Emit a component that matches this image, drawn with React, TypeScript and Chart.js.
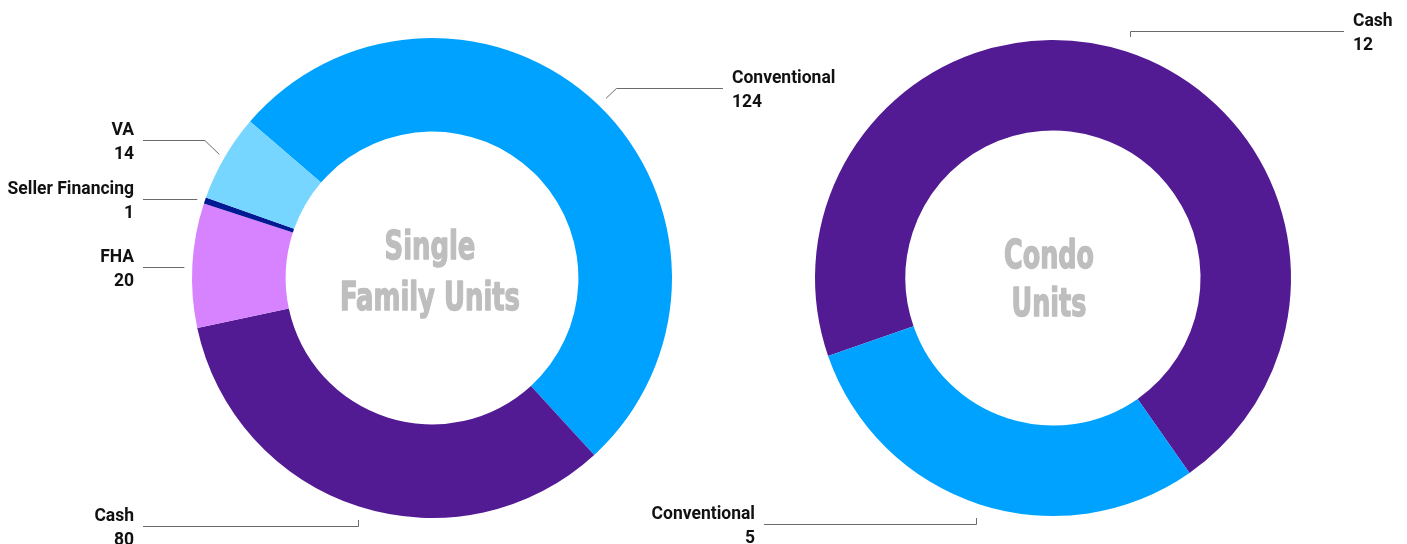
import React, { useEffect, useRef } from "react";
import { Chart, registerables } from "chart.js";

Chart.register(...registerables);

// ---- Data ----
const sfCategories = ["Conventional", "Cash", "FHA", "Seller Financing", "VA"];
const sfValues = [124, 80, 20, 1, 14];
const sfColors = ["#00A2FF", "#531B93", "#D783FF", "#011993", "#76D6FF"];
const sfTitle = ["Single", "Family Units"];

const condoCategories = ["Cash", "Conventional"];
const condoValues = [12, 5];
const condoColors = ["#531B93", "#00A2FF"];
const condoTitle = ["Condo", "Units"];

// ---- Label layout (relative to chart center) ----
type LabelLayout = {
  kind: "left" | "right-diag" | "left-diag" | "bottom-left" | "top-right";
  lineY: number;
  textX: number;
  lineEndX: number;
  anchorR: number;
};

const sfLayout: LabelLayout[] = [
  { kind: "right-diag", lineY: -190, textX: 300, lineEndX: 291, anchorR: 250 },
  { kind: "bottom-left", lineY: 248, textX: -298, lineEndX: -289, anchorR: 243 },
  { kind: "left", lineY: -11, textX: -298, lineEndX: -289, anchorR: 248 },
  { kind: "left", lineY: -79, textX: -298, lineEndX: -289, anchorR: 248 },
  { kind: "left-diag", lineY: -138, textX: -298, lineEndX: -289, anchorR: 246 },
];

const condoLayout: LabelLayout[] = [
  { kind: "top-right", lineY: -247, textX: 300, lineEndX: 291, anchorR: 250 },
  { kind: "bottom-left", lineY: 246, textX: -298, lineEndX: -289, anchorR: 250 },
];

const LABEL_FONT = 'bold 17.5px Roboto, "Noto Sans", sans-serif';
const TITLE_FONT = 'bold 39px "Liberation Sans Narrow", "DejaVu Sans Condensed", "Liberation Sans", sans-serif';

function makePlugin(layout: LabelLayout[], title: string[], titleBaselines: number[], titleWidth: number, titleDx: number) {
  return {
    id: "donutLabels",
    afterDraw(chart: any) {
      const ctx: CanvasRenderingContext2D = chart.ctx;
      const meta = chart.getDatasetMeta(0);
      const data = chart.data.datasets[0].data as number[];
      const labels = chart.data.labels as string[];
      ctx.save();
      meta.data.forEach((arc: any, i: number) => {
        const L = layout[i];
        if (!L) return;
        const cx = arc.x;
        const cy = arc.y;
        const mid = (arc.startAngle + arc.endAngle) / 2;
        const ax = cx + Math.cos(mid) * L.anchorR;
        const ay = cy + Math.sin(mid) * L.anchorR;
        const ly = cy + L.lineY;
        const lx = cx + L.lineEndX;
        ctx.strokeStyle = "#6b6b6b";
        ctx.lineWidth = 1;
        ctx.beginPath();
        if (L.kind === "left") {
          ctx.moveTo(lx, ly + 0.5);
          ctx.lineTo(ax, ly + 0.5);
        } else if (L.kind === "left-diag") {
          const ex = ax - Math.abs(ay - ly);
          ctx.moveTo(lx, ly + 0.5);
          ctx.lineTo(ex, ly + 0.5);
          ctx.lineTo(ax, ay);
        } else if (L.kind === "right-diag") {
          const ex = ax + Math.abs(ay - ly);
          ctx.moveTo(ax, ay);
          ctx.lineTo(ex, ly + 0.5);
          ctx.lineTo(lx, ly + 0.5);
        } else if (L.kind === "bottom-left") {
          ctx.moveTo(lx, ly + 0.5);
          ctx.lineTo(Math.round(ax) + 0.5, ly + 0.5);
          ctx.lineTo(Math.round(ax) + 0.5, ly - 6);
        } else if (L.kind === "top-right") {
          ctx.moveTo(Math.round(ax) + 0.5, ly + 6);
          ctx.lineTo(Math.round(ax) + 0.5, ly + 0.5);
          ctx.lineTo(lx, ly + 0.5);
        }
        ctx.stroke();

        ctx.fillStyle = "#111111";
        ctx.font = LABEL_FONT;
        ctx.textBaseline = "middle";
        ctx.textAlign = L.textX < 0 ? "right" : "left";
        const tx = cx + L.textX;
        ctx.fillText(labels[i], tx, ly - 9);
        ctx.fillText(String(data[i]), tx, ly + 15);
      });

      const a0 = meta.data[0];
      const cx = a0.x + titleDx;
      const cy = a0.y;
      ctx.font = TITLE_FONT;
      ctx.fillStyle = "#BEBEBE";
      ctx.strokeStyle = "#BEBEBE";
      ctx.lineWidth = 1.4;
      ctx.lineJoin = "round";
      ctx.textAlign = "center";
      ctx.textBaseline = "alphabetic";
      const widest = Math.max(...title.map((t) => ctx.measureText(t).width));
      const sx = Math.min(1, titleWidth / widest);
      title.forEach((t, k) => {
        ctx.save();
        ctx.translate(cx, cy + titleBaselines[k]);
        ctx.scale(sx, 1);
        ctx.fillText(t, 0, 0);
        ctx.strokeText(t, 0, 0);
        ctx.restore();
      });
      ctx.restore();
    },
  };
}

function Donut(props: {
  width: number;
  height: number;
  labels: string[];
  values: number[];
  colors: string[];
  rotation: number;
  cutout: string;
  padding: { top: number; bottom: number; left: number; right: number };
  layout: LabelLayout[];
  title: string[];
  titleBaselines: number[];
  titleWidth: number;
  titleDx: number;
}) {
  const ref = useRef<HTMLCanvasElement | null>(null);
  useEffect(() => {
    if (!ref.current) return;
    const chart = new Chart(ref.current, {
      type: "doughnut",
      data: {
        labels: props.labels,
        datasets: [
          {
            data: props.values,
            backgroundColor: props.colors,
            borderWidth: 0,
          },
        ],
      },
      options: {
        responsive: false,
        animation: false,
        rotation: props.rotation,
        cutout: props.cutout,
        layout: { padding: props.padding },
        plugins: { legend: { display: false }, tooltip: { enabled: false } },
      },
      plugins: [makePlugin(props.layout, props.title, props.titleBaselines, props.titleWidth, props.titleDx)],
    } as any);
    return () => chart.destroy();
  }, []);
  return (
    <canvas
      ref={ref}
      width={props.width}
      height={props.height}
      style={{ display: "block", position: "absolute", left: 0, top: 0, width: props.width, height: props.height }}
    />
  );
}

export default function App() {
  return (
    <div style={{ position: "relative", width: 1391, height: 536, background: "#ffffff" }}>
      <Donut
        width={1391}
        height={536}
        labels={sfCategories}
        values={sfValues}
        colors={sfColors}
        rotation={-49.3}
        cutout="61%"
        padding={{ top: 30, bottom: 26, left: 184, right: 727 }}
        layout={sfLayout}
        title={sfTitle}
        titleBaselines={[-19, 32]}
        titleWidth={180}
        titleDx={-2}
      />
      <Donut
        width={1391}
        height={536}
        labels={condoCategories}
        values={condoValues}
        colors={condoColors}
        rotation={250.9}
        cutout="62%"
        padding={{ top: 32, bottom: 28, left: 807, right: 108 }}
        layout={condoLayout}
        title={condoTitle}
        titleBaselines={[-10, 38]}
        titleWidth={90}
        titleDx={-4}
      />
    </div>
  );
}
